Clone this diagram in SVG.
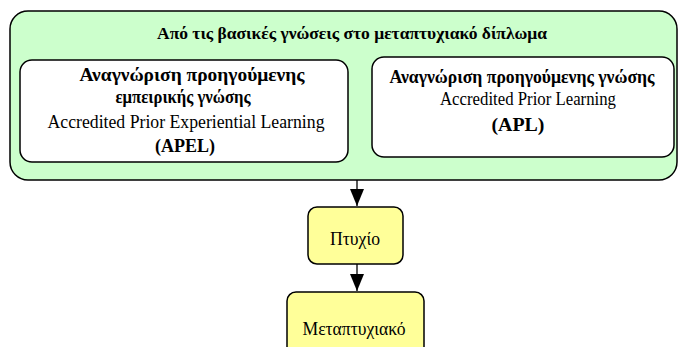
<svg xmlns="http://www.w3.org/2000/svg" width="679" height="347" viewBox="0 0 679 347">
<defs>
<style>
.outer{fill:#ccffcc;stroke:#000;stroke-width:1.5}
.inner{fill:#fff;stroke:#000;stroke-width:1.5}
.yel{fill:#ffff99;stroke:#000;stroke-width:1.5}
.t{fill:#000;text-anchor:middle;font-family:"Liberation Serif","Times New Roman",serif;font-size:18px}
.b{font-weight:700}
.ti{font-size:17px}
.conn{stroke:#000;stroke-width:1.3;fill:none}
</style>
<marker id="ah" markerWidth="17" markerHeight="14" refX="17" refY="7" orient="auto" markerUnits="userSpaceOnUse" viewBox="0 0 17 14">
<path d="M0,0 L17,7 L0,14 Z" fill="#000"/>
</marker>
</defs>
<g id="group-main">
<rect class="outer" x="10" y="11" width="667" height="169" rx="18" ry="18"/>
<text class="t b ti" x="352" y="39" textLength="390" lengthAdjust="spacingAndGlyphs">Από τις βασικές γνώσεις στο μεταπτυχιακό δίπλωμα</text>
</g>
<g id="node-apel">
<rect class="inner" x="20" y="60" width="328" height="102" rx="12" ry="12"/>
<text class="t b" x="192" y="81" textLength="225" lengthAdjust="spacingAndGlyphs">Αναγνώριση προηγούμενης</text>
<text class="t b" x="183" y="103" textLength="135" lengthAdjust="spacingAndGlyphs">εμπειρικής γνώσης</text>
<text class="t" x="186" y="128" textLength="277" lengthAdjust="spacingAndGlyphs">Accredited Prior Experiential Learning</text>
<text class="t b" x="185" y="152" textLength="60" lengthAdjust="spacingAndGlyphs">(APEL)</text>
</g>
<g id="node-apl">
<rect class="inner" x="372" y="57" width="302" height="100" rx="12" ry="12"/>
<text class="t b" x="522" y="83" textLength="265" lengthAdjust="spacingAndGlyphs">Αναγνώριση προηγούμενης γνώσης</text>
<text class="t" x="528" y="105" textLength="176" lengthAdjust="spacingAndGlyphs">Accredited Prior Learning</text>
<text class="t b" x="518" y="131" textLength="53" lengthAdjust="spacingAndGlyphs">(APL)</text>
</g>
<g id="node-ptyxio">
<rect class="yel" x="308" y="207" width="95" height="57" rx="9" ry="9"/>
<text class="t" x="355" y="245" textLength="50" lengthAdjust="spacingAndGlyphs">Πτυχίο</text>
</g>
<g id="node-metaptyxiako">
<rect class="yel" x="287" y="292" width="137" height="70" rx="9" ry="9"/>
<text class="t" x="354" y="335" textLength="103" lengthAdjust="spacingAndGlyphs">Μεταπτυχιακό</text>
</g>
<g id="connectors">
<line class="conn" x1="357" y1="180" x2="357" y2="206" marker-end="url(#ah)"/>
<line class="conn" x1="357" y1="264" x2="357" y2="291" marker-end="url(#ah)"/>
</g>
</svg>
